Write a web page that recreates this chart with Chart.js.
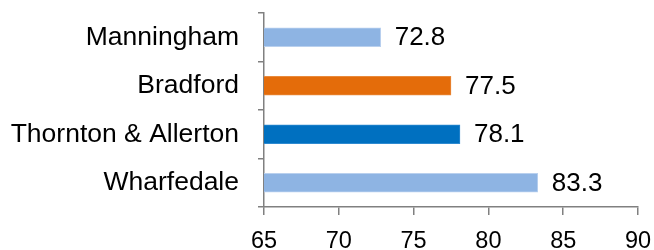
<!DOCTYPE html>
<html>
<head>
<meta charset="utf-8">
<script src="https://cdn.jsdelivr.net/npm/chart.js@4/dist/chart.umd.min.js"></script>
<style>
html,body{margin:0;padding:0;background:#fff;overflow:hidden;}
#wrap{width:654px;height:250px;position:relative;}
</style>
</head>
<body>
<div id="wrap"><canvas id="c"></canvas></div>
<script>
const categories = ["Manningham", "Bradford", "Thornton & Allerton", "Wharfedale"];
const values = [72.8, 77.5, 78.1, 83.3];
const valueLabels = ["72.8", "77.5", "78.1", "83.3"];
const barColors = ["#8EB4E3", "#E46C0A", "#0070C0", "#8EB4E3"];
const barEdges = ["#B9D0EE", "#E98A3C", "#2E8AD0", "#B9D0EE"];
const xMin = 65, xMax = 90, xStep = 5;

const labelPlugin = {
  id: 'valueLabels',
  afterDatasetsDraw(chart) {
    const ctx = chart.ctx;
    const meta = chart.getDatasetMeta(0);
    ctx.save();
    ctx.font = '26px "Liberation Sans", Arial, sans-serif';
    ctx.fillStyle = '#000';
    ctx.textAlign = 'left';
    ctx.textBaseline = 'middle';
    meta.data.forEach((bar, i) => {
      ctx.fillText(valueLabels[i], bar.x + 14, bar.y + 1);
    });
    ctx.restore();
  }
};

function noPad(scale) {
  scale.paddingTop = 0; scale.paddingBottom = 0;
  scale.paddingLeft = 0; scale.paddingRight = 0;
}

new Chart(document.getElementById('c'), {
  type: 'bar',
  data: {
    labels: categories,
    datasets: [{
      data: values,
      backgroundColor: barColors,
      borderColor: barEdges,
      borderWidth: 1,
      barThickness: 19
    }]
  },
  options: {
    indexAxis: 'y',
    responsive: true,
    maintainAspectRatio: false,
    animation: false,
    layout: { padding: { left: 0, right: 16, top: 13, bottom: 0 } },
    plugins: { legend: { display: false }, tooltip: { enabled: false } },
    scales: {
      x: {
        min: xMin, max: xMax,
        afterFit(scale) { scale.height = 43; noPad(scale); },
        ticks: {
          stepSize: xStep,
          color: '#000',
          padding: 12,
          font: { family: '"Liberation Sans", Arial, sans-serif', size: 23.5 }
        },
        grid: { drawOnChartArea: false, tickLength: 8, color: '#808080', lineWidth: 1.5 },
        border: { display: true, color: '#808080', width: 1.5 }
      },
      y: {
        afterFit(scale) { scale.width = 264; noPad(scale); },
        ticks: {
          color: '#000',
          padding: 19,
          font: { family: '"Liberation Sans", Arial, sans-serif', size: 26.5 }
        },
        grid: { drawOnChartArea: false, tickLength: 6, color: '#808080', lineWidth: 1.5, offset: true },
        border: { display: true, color: '#808080', width: 1.5 }
      }
    }
  },
  plugins: [labelPlugin]
});
</script>
</body>
</html>
